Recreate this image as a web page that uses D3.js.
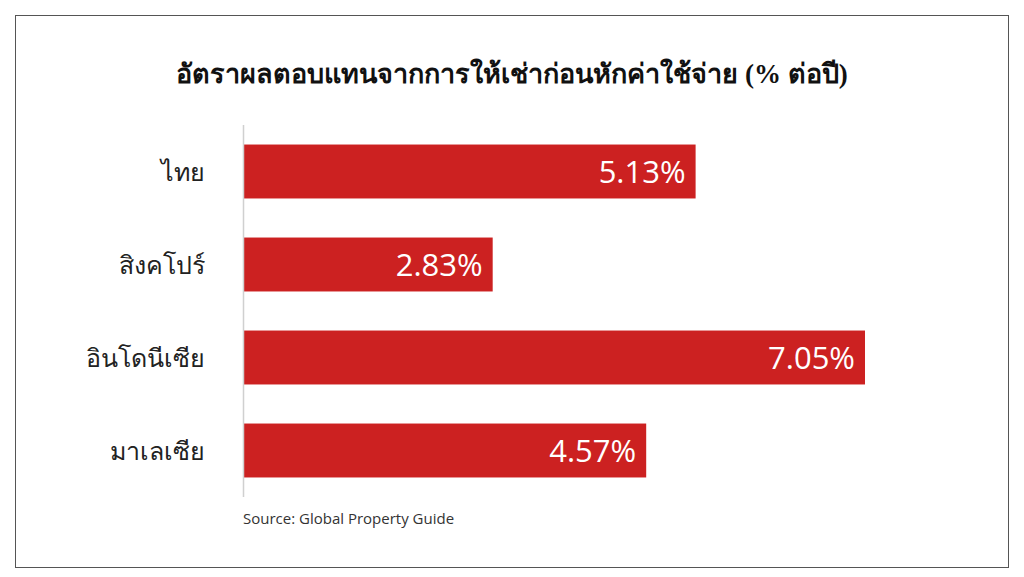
<!DOCTYPE html>
<html><head><meta charset="utf-8">
<script src="https://cdn.jsdelivr.net/npm/d3@7"></script>
<style>body{margin:0;background:#fff}</style>
</head><body>
<svg id="c" width="1024" height="577"></svg>
<script>
const categories = ["ไทย","สิงคโปร์","อินโดนีเซีย","มาเลเซีย"];
const values = [5.13, 2.83, 7.05, 4.57];
const labels = ["5.13%","2.83%","7.05%","4.57%"];
const title = "อัตราผลตอบแทนจากการให้เช่าก่อนหักค่าใช้จ่าย (% ต่อปี)";
const source = "Source: Global Property Guide";

const svg = d3.select("#c");
svg.append("rect").attr("x",15.5).attr("y",15.5).attr("width",993).attr("height",552)
  .attr("fill","#fff").attr("stroke","#555").attr("stroke-width",1);

const x = d3.scaleLinear().domain([0,7.05]).range([243,865]);
const y = d3.scaleBand().domain(categories).range([125,497]).paddingInner(0.42).paddingOuter(0.21);

svg.append("text").attr("x",512).attr("y",83).attr("text-anchor","middle")
  .attr("font-family","Liberation Serif, serif").attr("font-weight","bold").attr("font-size",27)
  .attr("fill","#111").text(title);

svg.selectAll("rect.bar").data(values).join("rect").attr("class","bar")
  .attr("x",x(0)).attr("y",(d,i)=>y(categories[i])).attr("width",d=>x(d)-x(0))
  .attr("height",y.bandwidth()).attr("fill","#cc2121");

svg.append("line").attr("x1",243.5).attr("x2",243.5).attr("y1",125).attr("y2",497)
  .attr("stroke","#d0d0d0").attr("stroke-width",1.5);

svg.selectAll("text.v").data(values).join("text").attr("class","v")
  .attr("x",d=>x(d)-10).attr("y",(d,i)=>y(categories[i])+y.bandwidth()/2+11)
  .attr("text-anchor","end").attr("fill","#fff").attr("font-family","Open Sans, sans-serif")
  .attr("font-size",31).text((d,i)=>labels[i]);

svg.selectAll("text.c").data(categories).join("text").attr("class","c")
  .attr("x",205).attr("y",d=>y(d)+y.bandwidth()/2+9).attr("text-anchor","end")
  .attr("font-family","Liberation Serif, serif").attr("font-size",25).attr("fill","#222").text(d=>d);

svg.append("text").attr("x",243).attr("y",524).attr("font-family","Open Sans, sans-serif")
  .attr("font-size",15).attr("fill","#333").text(source);
</script>
</body></html>
